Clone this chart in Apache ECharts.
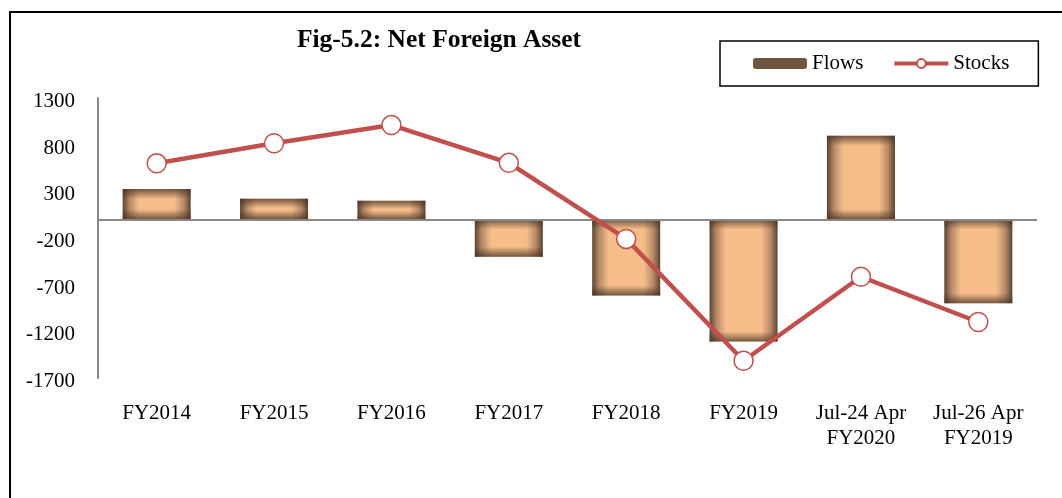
<!DOCTYPE html>
<html>
<head>
<meta charset="utf-8">
<title>Net Foreign Asset</title>
<script src="https://cdn.jsdelivr.net/npm/echarts@6/dist/echarts.min.js"></script>
<style>
  html, body { margin: 0; padding: 0; background: #fff; }
  #chart { width: 1062px; height: 498px; }
</style>
</head>
<body>
<div id="chart"></div>
<script>
// data
var categories = ["FY2014", "FY2015", "FY2016", "FY2017", "FY2018", "FY2019", "Jul-24 Apr\nFY2020", "Jul-26 Apr\nFY2019"];
var flows = [325, 220, 200, -400, -815, -1310, 895, -900];
var stocks = [600, 815, 1010, 605, -210, -1515, -615, -1100];
var yMin = -1700;
var yMax = 1300;
var yStep = 500;

var font = "'Liberation Serif', 'Times New Roman', serif";
var pxPerUnit = 280 / (yMax - yMin); // plot height / range, only for shading size

// horizontal shading of the bars (dark edges, peach middle)
var barFill = new echarts.graphic.LinearGradient(0, 0, 1, 0, [
  { offset: 0, color: "#5b4431" },
  { offset: 0.1, color: "#b68865" },
  { offset: 0.24, color: "#f6bd8b" },
  { offset: 0.76, color: "#f6bd8b" },
  { offset: 0.9, color: "#b68865" },
  { offset: 1, color: "#5b4431" }
]);

// vertical shading overlay, about 10px at each end
function endShade(params) {
  var h = Math.abs(params.value) * pxPerUnit;
  var f = Math.min(0.45, 10 / h);
  return new echarts.graphic.LinearGradient(0, 0, 0, 1, [
    { offset: 0, color: "rgba(70,50,35,0.75)" },
    { offset: f, color: "rgba(70,50,35,0)" },
    { offset: 1 - f, color: "rgba(70,50,35,0)" },
    { offset: 1, color: "rgba(70,50,35,0.75)" }
  ]);
}

var chart = echarts.init(document.getElementById("chart"));
chart.setOption({
  animation: false,
  backgroundColor: "#fff",
  textStyle: { fontFamily: font },
  graphic: [
    {
      type: "polyline",
      shape: { points: [[10, 520], [10, 12], [1080, 12]] },
      style: { stroke: "#000", lineWidth: 2, fill: null }
    }
  ],
  title: {
    text: "Fig-5.2: Net Foreign Asset",
    left: 434,
    textAlign: "center",
    top: 22,
    textStyle: { fontFamily: font, fontSize: 25.5, fontWeight: "bold", color: "#000" }
  },
  legend: {
    left: 720,
    top: 41,
    padding: [12, 29, 12, 33],
    borderColor: "#000",
    borderWidth: 1.5,
    itemWidth: 54,
    itemHeight: 11,
    itemGap: 29,
    textStyle: { fontFamily: font, fontSize: 21, color: "#000" },
    data: [
      { name: "Flows", itemStyle: { color: "#6f5540" } },
      { name: "Stocks", lineStyle: { width: 4, color: "#c0504d" } }
    ]
  },
  grid: { left: 98, right: 25, top: 98, bottom: 120 },
  xAxis: {
    type: "category",
    data: categories,
    axisLine: { show: false, onZero: false },
    axisTick: { show: false },
    axisLabel: {
      interval: 0,
      margin: 23,
      fontFamily: font,
      fontSize: 21,
      lineHeight: 25,
      color: "#000"
    }
  },
  yAxis: {
    type: "value",
    min: yMin,
    max: yMax,
    interval: 100,
    splitLine: { show: false },
    axisTick: { show: false },
    axisLine: { show: true, lineStyle: { color: "#888", width: 2 } },
    axisLabel: {
      margin: 23,
      fontFamily: font,
      fontSize: 21,
      color: "#000",
      verticalAlign: "top",
      padding: [-7, 0, 0, 0],
      formatter: function (v) {
        return (v - yMin) % yStep === 0 ? String(v) : "";
      }
    }
  },
  series: [
    {
      name: "Flows",
      type: "bar",
      data: flows,
      barWidth: 68,
      itemStyle: { color: barFill },
      markLine: {
        silent: true,
        symbol: "none",
        label: { show: false },
        lineStyle: { color: "#888", width: 2, type: "solid" },
        data: [{ yAxis: 0 }]
      }
    },
    {
      name: "FlowsShade",
      type: "bar",
      data: flows,
      barWidth: 68,
      barGap: "-100%",
      silent: true,
      itemStyle: { color: endShade }
    },
    {
      name: "Stocks",
      type: "line",
      data: stocks,
      z: 5,
      symbol: "circle",
      symbolSize: 19,
      lineStyle: { color: "#c0504d", width: 4.5 },
      itemStyle: { color: "#fff", borderColor: "#c0504d", borderWidth: 1.5 }
    }
  ]
});
</script>
</body>
</html>
